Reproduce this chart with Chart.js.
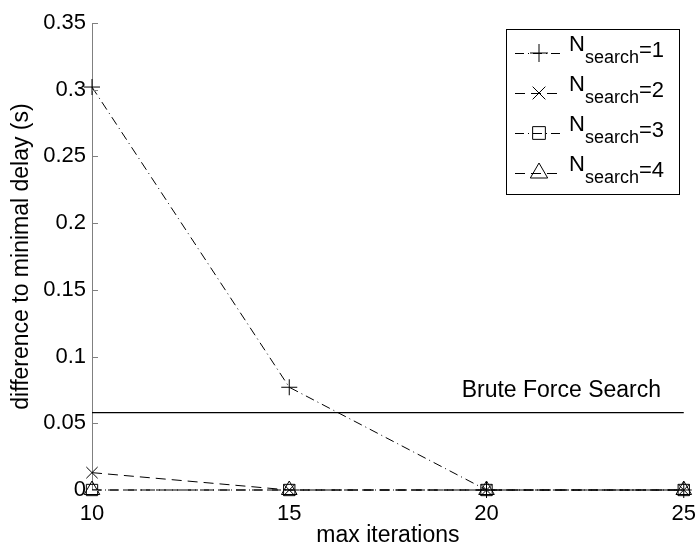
<!DOCTYPE html>
<html>
<head>
<meta charset="utf-8">
<script src="https://cdn.jsdelivr.net/npm/chart.js@4"></script>
<style>
html, body { margin: 0; padding: 0; background: #fff; }
</style>
</head>
<body>
<canvas id="chart" width="699" height="546"></canvas>
<script>
// --- DATOS ---
const iterations = [10, 15, 20, 25];
const searchNames = ['1', '2', '3', '4'];
const search1 = [0.302, 0.077, 0, 0];
const search2 = [0.013, 0, 0, 0];
const search3 = [0, 0, 0, 0];
const search4 = [0, 0, 0, 0];
const bruteForce = 0.058;
const bruteLabel = 'Brute Force Search';
const xTicks = [10, 15, 20, 25];
const yTicks = [0, 0.05, 0.1, 0.15, 0.2, 0.25, 0.3, 0.35];
const yTickLabels = ['0', '0.05', '0.1', '0.15', '0.2', '0.25', '0.3', '0.35'];

const FONT = '"Liberation Sans", Arial, sans-serif';
const FS = 22;      // ticks / leyenda
const FS_T = 23;    // titulos de ejes

// estilo de cada serie (linea + marcador)
const styles = [
    { dash: [9, 4, 1, 4], point: 'cross', r: 8 },
    { dash: [10, 6], point: 'crossRot', r: 8 },
    { dash: [9, 4, 1, 4], point: 'rect', r: 8 },
    { dash: [10, 6], point: 'triangle', r: 9 }
];
const allSeries = [search1, search2, search3, search4];

const datasets = allSeries.map((vals, i) => ({
    label: 'N_search=' + searchNames[i],
    data: iterations.map((x, j) => ({ x: x, y: vals[j] })),
    borderColor: '#000',
    borderWidth: 1,
    borderDash: styles[i].dash,
    pointStyle: styles[i].point,
    pointRadius: styles[i].r,
    pointBorderColor: '#000',
    pointBackgroundColor: 'rgba(0,0,0,0)',
    pointBorderWidth: 1,
    fill: false,
    tension: 0,
    clip: false
}));

datasets.push({
    label: bruteLabel,
    data: [{ x: xTicks[0], y: bruteForce }, { x: xTicks[xTicks.length - 1], y: bruteForce }],
    borderColor: '#000',
    borderWidth: 1.2,
    pointRadius: 0,
    fill: false,
    clip: false
});

// marcas del eje y hacia dentro + texto "Brute Force Search"
const extrasPlugin = {
    id: 'extras',
    afterDatasetsDraw(chart) {
        const ctx = chart.ctx;
        const ys = chart.scales.y;
        const xs = chart.scales.x;
        ctx.save();
        ctx.strokeStyle = '#808080';
        ctx.lineWidth = 1;
        yTicks.forEach(v => {
            const py = Math.round(ys.getPixelForValue(v)) + 0.5;
            ctx.beginPath();
            ctx.moveTo(ys.right, py);
            ctx.lineTo(ys.right + 6, py);
            ctx.stroke();
        });
        ctx.fillStyle = '#000';
        ctx.font = FS_T + 'px ' + FONT;
        ctx.textBaseline = 'alphabetic';
        ctx.fillText(bruteLabel, xs.getPixelForValue(19.37), ys.getPixelForValue(bruteForce) - 16);
        ctx.restore();
    }
};

// leyenda con subindice
const legendPlugin = {
    id: 'subLegend',
    afterDraw(chart) {
        const ctx = chart.ctx;
        const box = { x: 506, y: 29, w: 173, h: 165 };
        ctx.save();
        ctx.fillStyle = '#fff';
        ctx.fillRect(box.x, box.y, box.w, box.h);
        ctx.strokeStyle = '#000';
        ctx.lineWidth = 1;
        ctx.strokeRect(box.x + 0.5, box.y + 0.5, box.w, box.h);
        styles.forEach((s, i) => {
            const cy = 53 + i * 40;
            ctx.setLineDash(s.dash);
            ctx.beginPath();
            ctx.moveTo(515, cy + 0.5);
            ctx.lineTo(562, cy + 0.5);
            ctx.stroke();
            ctx.setLineDash([]);
            ctx.fillStyle = 'rgba(0,0,0,0)';
            Chart.helpers.drawPoint(ctx, { pointStyle: s.point, radius: s.r + 1, borderWidth: 1, rotation: 0 }, 539, cy);
            ctx.fillStyle = '#000';
            ctx.font = FS + 'px ' + FONT;
            ctx.fillText('N', 569, cy - 2);
            const nW = ctx.measureText('N').width;
            ctx.font = '18px ' + FONT;
            ctx.fillText('search', 569 + nW, cy + 10);
            const sW = ctx.measureText('search').width;
            ctx.font = FS + 'px ' + FONT;
            ctx.fillText('=' + searchNames[i], 569 + nW + sW, cy + 4);
        });
        ctx.restore();
    }
};

new Chart(document.getElementById('chart').getContext('2d'), {
    type: 'line',
    data: { datasets: datasets },
    options: {
        responsive: false,
        animation: false,
        layout: { padding: { top: 23, right: 11, left: 0, bottom: 0 } },
        plugins: { legend: { display: false }, tooltip: { enabled: false } },
        scales: {
            x: {
                type: 'linear',
                min: xTicks[0],
                max: xTicks[xTicks.length - 1],
                afterBuildTicks: s => { s.ticks = xTicks.map(v => ({ value: v })); },
                afterFit: s => { s.height = 56; },
                grid: { display: false },
                border: { display: false },
                ticks: { color: '#000', font: { family: FONT, size: FS }, padding: 3, maxRotation: 0 },
                title: { display: true, text: 'max iterations', color: '#000', font: { family: FONT, size: FS_T }, padding: { top: 0, bottom: -3 } }
            },
            y: {
                min: yTicks[0],
                max: yTicks[yTicks.length - 1],
                afterBuildTicks: s => { s.ticks = yTicks.map(v => ({ value: v })); },
                afterFit: s => { s.width = 92; },
                grid: { display: true, drawOnChartArea: false, drawTicks: false, color: '#808080' },
                border: { display: true, color: '#808080' },
                ticks: {
                    color: '#000', font: { family: FONT, size: FS }, padding: 6,
                    callback: (v, i) => yTickLabels[i]
                },
                title: { display: true, text: 'difference to minimal delay (s)', color: '#000', font: { family: FONT, size: FS_T }, padding: { top: 8, bottom: 0 } }
            }
        }
    },
    plugins: [extrasPlugin, legendPlugin]
});
</script>
</body>
</html>
